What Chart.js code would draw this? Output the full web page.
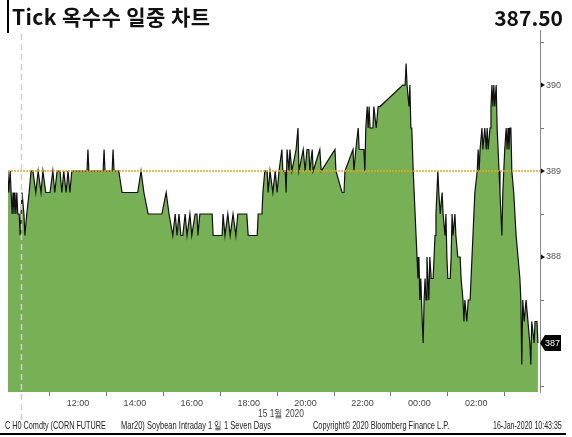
<!DOCTYPE html>
<html>
<head>
<meta charset="utf-8">
<script src="https://cdn.jsdelivr.net/npm/chart.js@4.4.1/dist/chart.umd.min.js"></script>
<style>
  body { margin: 0; background: #fff; }
  #wrap { position: relative; width: 572px; height: 437px; overflow: hidden; }
  #chart { position: absolute; left: 0; top: 0; }
  .bar { position: absolute; left: 7px; top: 0; width: 2px; height: 33px; background: #000; }
  .title { position: absolute; left: 12px; top: 6px; font: bold 21px/21px 'Noto Sans CJK KR'; letter-spacing: 0.4px; color: #111; white-space: nowrap; }
  .last { position: absolute; right: 9px; top: 7px; font: bold 21px/21px 'Noto Sans CJK KR'; color: #111; }
  .txt { position: absolute; display: inline-block; font: 11px/11px 'Liberation Sans', sans-serif; color: #222; white-space: nowrap; transform-origin: 0 0; }
  .rule { position: absolute; left: 0; top: 433px; width: 566px; height: 2px; background: #000; }
</style>
</head>
<body>
<div id="wrap">
  <canvas id="chart" width="572" height="437"></canvas>
  <div class="bar"></div>
  <div class="title">Tick 옥수수 일중 차트</div>
  <div class="last">387.50</div>
  <div class="txt" data-w="46" style="left:258px; top:408px; color:#444;">15 1월 2020</div>
  <div class="txt" data-w="101" style="left:5px; top:420px;">C H0 Comdty (CORN FUTURE</div>
  <div class="txt" data-w="150" style="left:121px; top:420px;">Mar20) Soybean Intraday 1 일 1 Seven Days</div>
  <div class="txt" data-w="136" style="left:313px; top:420px;">Copyright© 2020 Bloomberg Finance L.P.</div>
  <div class="txt" data-w="69" style="left:493px; top:420px;">16-Jan-2020 10:43:35</div>
  <div class="rule"></div>
</div>
<script>
// tick data, 15-16 Jan 2020 (times after midnight belong to the 16th)
const tickTimes = [
  '09:32','09:34','09:37','09:39','09:41','09:43','09:45','09:47','09:49','09:51',
  '09:53','09:56','09:58','10:00','10:02','10:06','10:08','10:12','10:17','10:21',
  '10:25','10:31','10:36','10:42','10:46','10:52','11:01','11:07','11:11','11:16',
  '11:22','11:26','11:30','11:35','11:39','11:43','11:47','12:19','12:21','12:23',
  '12:53','12:55','12:57','13:12','13:14','13:16','13:26','13:33','14:06','14:13',
  '14:19','14:28','14:57','15:06','15:12','15:20','15:25','15:29','15:33','15:37',
  '15:41','15:46','15:50','15:56','16:00','16:07','16:11','16:13','16:17','16:22',
  '16:43','16:45','17:04','17:06','17:10','17:16','17:21','17:27','17:33','17:37',
  '17:56','17:59','18:18','18:20','18:28','18:30','18:34','18:39','18:41','18:45',
  '18:51','18:56','19:00','19:04','19:10','19:12','19:17','19:19','19:21','19:25',
  '19:27','19:31','19:40','19:44','19:46','19:55','19:59','20:03','20:07','20:09',
  '20:14','20:16','20:30','20:33','21:02','21:04','21:17','21:21','21:23','21:40',
  '21:42','21:46','21:51','21:53','22:03','22:05','22:07','22:10','22:12','22:14',
  '22:16','22:22','22:24','22:29','22:33','22:37','23:25','23:30','23:32','23:34',
  '23:38','23:40','23:42','23:44','23:47','23:51','23:55','23:57','23:59','00:01',
  '00:03','00:06','00:08','00:10','00:12','00:14','00:16','00:18','00:20','00:22',
  '00:25','00:29','00:33','00:35','00:37','00:39','00:41','00:44','00:48','00:50',
  '00:54','00:56','00:58','01:00','01:05','01:07','01:09','01:11','01:15','01:17',
  '01:21','01:26','01:28','01:32','01:34','01:36','01:40','01:43','01:47','01:49',
  '01:51','01:55','01:57','02:02','02:04','02:06','02:08','02:12','02:14','02:18',
  '02:21','02:23','02:25','02:29','02:31','02:33','02:35','02:37','02:39','02:42',
  '02:44','02:48','02:50','02:52','02:54','02:56','02:58','03:00','03:03','03:05',
  '03:07','03:09','03:11','03:13','03:15','03:19','03:24','03:28','03:32','03:34',
  '03:36','03:38','03:41','03:45','03:49','03:53','03:55','03:57','04:02','04:04',
  '04:08','04:10'
];
const tickPrices = [
  389,388.75,389,388.75,388.5,388.75,388.5,388.75,388.5,388.75,
  388.5,388.5,388.25,388.5,388.75,388.5,388.25,388.5,388.75,389,
  389,388.75,389,388.75,389,388.75,388.75,389,388.75,389,
  389,388.75,389,388.75,389,388.75,389,389,389.25,389,
  389,389.25,389,389,389.25,389,389,388.75,388.75,389,
  388.75,388.5,388.5,388.75,388.5,388.25,388.5,388.25,388.5,388.25,
  388.25,388.5,388.25,388.5,388.25,388.5,388.5,388.25,388.5,388.5,
  388.5,388.25,388.25,388.5,388.25,388.5,388.25,388.5,388.25,388.5,
  388.5,388.25,388.25,388.5,388.5,388.75,389,389,388.75,389,
  388.75,389,388.75,389,389.25,389,389,388.75,389.25,389,
  389.25,389,389.25,389.5,389,389.25,389,389.25,389.25,389,
  389.25,389,389.25,389,389.25,389,388.75,388.75,389,389.25,
  389,389.25,389.5,389.25,389.25,389,389.5,389.75,389.5,389.75,
  389.5,389.5,389.75,389.5,389.75,389.75,390,390,390.25,390,
  389.75,390,389.5,389.5,389,388.5,388,387.75,388,387.5,
  387.75,387.25,387,387.5,387.75,387.5,388,387.75,387.5,388,
  387.75,387.75,388.25,388.5,388.75,389,388.75,388.5,388.75,388.5,
  388.25,388.5,388,387.75,387.75,388,388.5,388.25,388.5,388.25,
  388,388,387.75,387.5,387.25,387.5,387.25,387.5,387.5,387.75,
  388,388.5,388.75,389,389.25,389,389.25,389.5,389.25,389.5,
  389.25,389.5,389.25,389.5,389.75,390,389.75,390,389.75,390,
  389.5,389,388.75,388.5,388.25,388.75,389,389.25,389.5,389.25,
  389.5,389.25,389.5,389.5,389,388.75,388.25,388,387.75,387.5,
  386.75,387.5,387.25,387.5,387.25,387,386.75,387.25,387,387.25,
  387.25,387
];
const prevClose = 389;             // orange dotted reference line
const sessionStart = 10;           // dashed day marker (hours)
const xRange = [9.54, 28.24];      // visible time span, hours from 15 Jan 00:00
const yRange = [386.43, 390.64];
const xLabelHours = [12, 14, 16, 18, 20, 22, 24, 26];
const yTickValues = [386.5, 387, 387.5, 388, 388.5, 389, 389.5, 390, 390.5];
const yLabelValues = [387, 388, 389, 390];

const axisFont = "'Liberation Sans', sans-serif";

// squeeze footer texts to the narrow look of the original
document.querySelectorAll('.txt').forEach(el => {
  const w = +el.dataset.w;
  el.style.transform = 'scaleX(' + (w / el.offsetWidth) + ')';
});

function toHours(t) {
  const [hh, mm] = t.split(':').map(Number);
  let h = hh + mm / 60;
  if (h < 9) h += 24;
  return h;
}
const pricePoints = tickTimes.map((t, i) => ({ x: toHours(t), y: tickPrices[i] }));

const axisMarks = {
  id: 'axisMarks',
  afterDatasetsDraw(chart) {
    const { ctx, chartArea, scales: { x } } = chart;
    const sx = Math.round(x.getPixelForValue(sessionStart)) + 0.5;
    ctx.save();
    ctx.strokeStyle = '#cfcfcf';
    ctx.lineWidth = 1.5;
    ctx.setLineDash([6, 4]);
    ctx.beginPath();
    ctx.moveTo(sx, chartArea.top + 4);
    ctx.lineTo(sx, 425);
    ctx.stroke();
    ctx.restore();
  },
  afterDraw(chart) {
    const { ctx, chartArea, scales: { y } } = chart;
    const ax = chartArea.right;
    ctx.save();
    yTickValues.forEach(v => {
      const py = Math.round(y.getPixelForValue(v));
      if (yLabelValues.includes(v)) {
        ctx.fillStyle = '#111';
        ctx.beginPath();
        ctx.moveTo(ax + 1, py - 2.5);
        ctx.lineTo(ax + 5, py);
        ctx.lineTo(ax + 1, py + 2.5);
        ctx.closePath();
        ctx.fill();
      } else {
        ctx.fillStyle = '#777';
        ctx.fillRect(ax + 1, py, 3, 1);
      }
    });
    // last price box
    const last = tickPrices[tickPrices.length - 1];
    const py = Math.round(y.getPixelForValue(last));
    const x0 = ax;
    ctx.fillStyle = '#000';
    ctx.beginPath();
    ctx.moveTo(x0, py);
    ctx.lineTo(x0 + 5, py - 8);
    ctx.lineTo(x0 + 21, py - 8);
    ctx.lineTo(x0 + 21, py + 8);
    ctx.lineTo(x0 + 5, py + 8);
    ctx.closePath();
    ctx.fill();
    ctx.fillStyle = '#fff';
    ctx.font = '9px ' + axisFont;
    ctx.textBaseline = 'middle';
    ctx.fillText(String(last), x0 + 5, py + 1);
    ctx.restore();
  }
};

new Chart(document.getElementById('chart'), {
  type: 'line',
  data: {
    datasets: [
      {
        data: [{ x: xRange[0], y: prevClose }, { x: xRange[1], y: prevClose }],
        borderColor: '#f5a21a',
        borderWidth: 1.3,
        borderDash: [2, 1],
        pointRadius: 0,
        fill: false
      },
      {
        data: pricePoints,
        borderColor: '#111',
        borderWidth: 1.2,
        backgroundColor: '#77b055',
        fill: 'start',
        pointRadius: 0,
        tension: 0
      }
    ]
  },
  options: {
    responsive: false,
    animation: false,
    devicePixelRatio: 1,
    layout: { padding: { top: 30, left: 8, right: 0, bottom: 0 } },
    plugins: { legend: { display: false }, tooltip: { enabled: false } },
    scales: {
      x: {
        type: 'linear',
        min: xRange[0],
        max: xRange[1],
        afterFit: s => { s.height = 45; },
        afterBuildTicks: s => {
          const t = [];
          for (let h = 10; h <= 28; h++) t.push({ value: h });
          s.ticks = t;
        },
        border: { display: false },
        grid: {
          drawOnChartArea: false,
          tickLength: 4,
          color: c => (c.tick && c.tick.value % 2 === 1) ? '#777' : 'rgba(0,0,0,0)'
        },
        ticks: {
          autoSkip: false,
          maxRotation: 0,
          padding: 2,
          color: '#444',
          font: { family: axisFont, size: 9 },
          callback: v => xLabelHours.includes(v) ? String(v % 24).padStart(2, '0') + ':00' : ''
        }
      },
      y: {
        position: 'right',
        min: yRange[0],
        max: yRange[1],
        afterFit: s => { s.width = 32; },
        afterBuildTicks: s => { s.ticks = yTickValues.map(v => ({ value: v })); },
        border: { display: true, color: '#8a8a8a', width: 1 },
        grid: { display: false, drawTicks: false },
        ticks: {
          padding: 6,
          color: '#555',
          font: { family: axisFont, size: 9 },
          callback: v => yLabelValues.includes(v) ? String(v) : ''
        }
      }
    }
  },
  plugins: [axisMarks]
});
</script>
</body>
</html>
